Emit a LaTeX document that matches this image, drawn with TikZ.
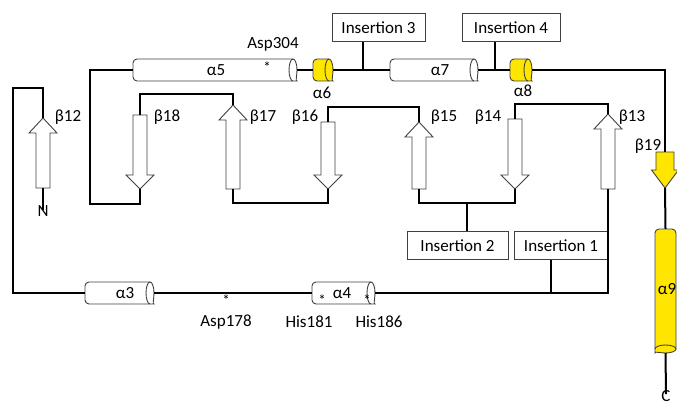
\documentclass[tikz,border=0pt]{standalone}
\usepackage{fontspec}
\setmainfont{Carlito}
\definecolor{hyel}{RGB}{255,230,0}
\newcommand\lbf{\fontsize{17}{20}\selectfont}
% horizontal helix: name, x1, x2, y, fill, label, label x
\newcommand\hhelix[7]{%
  \path[helixdraw, fill=#5, rounded corners=4pt] (#3-4,#4-11) -- (#2,#4-11) -- (#2,#4+11) -- (#3-4,#4+11) [sharp corners] arc[start angle=-90,end angle=90,x radius=4pt,y radius=11pt] -- cycle;
  \draw[helixdraw] (#3-4,#4-11) arc[start angle=90,end angle=270,x radius=4pt,y radius=11pt];
  \node[inner sep=0pt, minimum width={(#3-#2)*1pt}, minimum height=22pt] (#1) at ({(#2+#3)/2},#4) {};
  \node[lab] (#1lab) at (#7,#4) {#6};
}
% strand: name, x, tail y, head base y, tip y, fill, shaft half width, head half width
\newcommand\strand[8]{%
  \path[strandline, fill=#6] (#2-#7,#3) -- (#2-#7,#4) -- (#2-#8,#4) -- (#2,#5) -- (#2+#8,#4) -- (#2+#7,#4) -- (#2+#7,#3) -- cycle;
  \coordinate (#1t) at (#2,#3);
  \coordinate (#1h) at (#2,#5);
}
\begin{document}
\begin{tikzpicture}[x=1pt,y=-1pt,
  backbone/.style={line width=2pt, black},
  helixdraw/.style={line width=0.9pt, draw=black!75},
  strandline/.style={line width=0.9pt, draw=black!75},
  insbox/.style={draw=black!75, line width=0.9pt, minimum height=28pt, inner sep=0pt, font=\lbf},
  lab/.style={inner sep=0pt, font=\lbf},
  star/.style={inner sep=0pt, font=\fontsize{15}{17}\selectfont},
]
\useasboundingbox (0,0) rectangle (677,406);

% ---- insertion boxes
\node[insbox, minimum width=93pt] (ins3) at (378.5,27.5) {Insertion 3};
\node[insbox, minimum width=98pt] (ins4) at (511,27.5) {Insertion 4};
\node[insbox, minimum width=101pt] (ins2) at (457.5,245.5) {Insertion 2};
\node[insbox, minimum width=94pt] (ins1) at (561,245.5) {Insertion 1};

% ---- helices
\hhelix{a3}{85}{154}{293}{white}{α3}{125}
\hhelix{a4}{312}{375}{293}{white}{α4}{342}
\hhelix{a5}{133}{297}{70}{white}{α5}{216}
\hhelix{a6}{313}{333}{70}{hyel}{}{323}
\hhelix{a7}{390}{478}{70}{white}{α7}{440}
\hhelix{a8}{510}{532}{70}{hyel}{}{521}

% vertical helix a9
\path[helixdraw, fill=hyel, rounded corners=4pt] (676,349) -- (676,229) -- (655,229) -- (655,349) [sharp corners] arc[start angle=180,end angle=360,x radius=10.5pt,y radius=4pt] -- cycle;
\draw[helixdraw] (655,349) arc[start angle=180,end angle=0,x radius=10.5pt,y radius=4pt];
\node[inner sep=0pt, minimum width=21pt, minimum height=124pt] (a9) at (665.5,291) {};
\node[lab] (a9lab) at (667,289) {α9};

% ---- strands
\strand{b12}{43}{188}{133}{118}{white}{7}{14}
\strand{b18}{140}{115}{175}{189}{white}{7}{14}
\strand{b17}{233}{189}{120}{105}{white}{7}{14}
\strand{b16}{328}{122}{175}{189}{white}{7}{14}
\strand{b15}{419}{189}{137}{122}{white}{7}{14}
\strand{b14}{515}{119}{175}{189}{white}{7}{14}
\strand{b13}{608}{189}{129}{114}{white}{7}{14}
\strand{b19}{665}{152}{170}{188}{hyel}{9}{13.5}

% ---- termini
\node[lab] (N) at (43,211) {N};
\node[lab] (C) at (666,396) {C};

% ---- backbone
\draw[backbone] (b12t) -- ([yshift=-5pt]N.north);
\draw[backbone] (b12h) -- ++(0,-30) -- ++(-30,0) |- (a3.west);
\draw[backbone] (a3.east) -- (a4.west);
\draw[backbone] (a4.east) -| (b13t);
\draw[backbone] (b13h) -- ++(0,-10) -| (b14t);
\draw[backbone] (b14h) -- ++(0,14) -| (b15t);
\draw[backbone] (b15h) -- ++(0,-15) -| (b16t);
\draw[backbone] (b16h) -- ++(0,14) -| (b17t);
\draw[backbone] (b17h) -- ++(0,-11) -| (b18t);
\draw[backbone] (b18h) -- ++(0,15) -- ++(-50,0) |- (a5.west);
\draw[backbone] (a5.east) -- (a6.west);
\draw[backbone] (a6.east) -- (a7.west);
\draw[backbone] (a7.east) -- (a8.west);
\draw[backbone] (a8.east) -| (b19t);
\draw[backbone] (b19h) -- (a9.north);
\draw[backbone] (a9.south) -- ([yshift=-4pt]C.north);

% ---- insertion connectors
\coordinate (j3) at (363,70);
\coordinate (j4) at (495,70);
\coordinate (j2) at (467,203);
\coordinate (j1) at (551,293);
\draw[backbone] (j3) -- (j3 |- ins3.south);
\draw[backbone] (j4) -- (j4 |- ins4.south);
\draw[backbone] (j2) -- (j2 |- ins2.north);
\draw[backbone] (j1) -- (j1 |- ins1.south);

% ---- labels
\node[lab] (asp304) at (273,44) {Asp304};
\node[star] (s304) at (267,67) {*};
\node[lab] (l6) at (322,93) {α6};
\node[lab] (l8) at (523,91) {α8};
\node[lab] (lb12) at (68,117) {β12};
\node[lab] (lb18) at (167,117) {β18};
\node[lab] (lb17) at (263,117) {β17};
\node[lab] (lb16) at (305,117) {β16};
\node[lab] (lb15) at (444,117) {β15};
\node[lab] (lb14) at (488,117) {β14};
\node[lab] (lb13) at (632,117) {β13};
\node[lab] (lb19) at (648,146) {β19};
\node[star] (s178) at (226,300) {*};
\node[lab] (asp178) at (226,322) {Asp178};
\node[star] (s181) at (322,300) {*};
\node[star] (s186) at (367,300) {*};
\node[lab] (his181) at (309,322) {His181};
\node[lab] (his186) at (379,322) {His186};
\end{tikzpicture}
\end{document}
